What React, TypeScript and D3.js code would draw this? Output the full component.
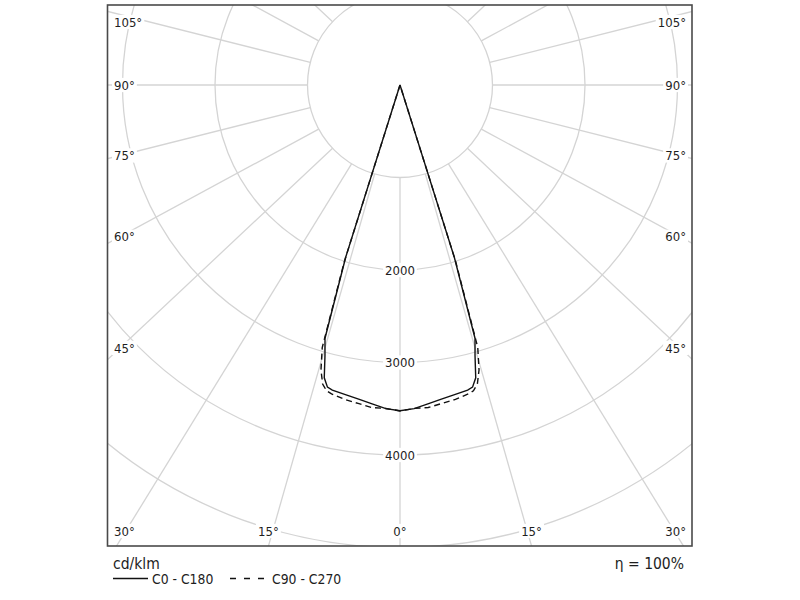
import React from "react";
import * as d3 from "d3";

// ---- data ----
const gammaDeg = [0, 2.5, 5, 7.5, 10, 12.5, 13.5, 14.5, 15.5, 16.5, 17.5, 18.5, 30, 45, 60, 75, 90];
const intensityC0C180 = [3521, 3502, 3460, 3426, 3399, 3379, 3359, 3270, 3035, 2855, 1950, 0, 0, 0, 0, 0, 0];
const intensityC90C270 = [3524, 3500, 3500, 3472, 3451, 3420, 3400, 3340, 3197, 2960, 2000, 0, 0, 0, 0, 0, 0];
const ringValues = [1000, 2000, 3000, 4000, 5000, 6000];
const ringLabelValues = [2000, 3000, 4000];
const spokeAngles = [0, 15, 30, 45, 60, 75, 90, 105, 120, 135, 150, 165, 180, 195, 210, 225, 240, 255, 270, 285, 300, 315, 330, 345];
const angleLabelValues = [0, 15, 30, 45, 60, 75, 90, 105];
const unitLabel = "cd/klm";
const efficiencyLabel = "η = 100%";
const seriesNames = ["C0 - C180", "C90 - C270"];

// ---- layout ----
const W = 800;
const H = 600;
const cx = 400;
const cy = 85;
const frame = { x0: 107.5, y0: 5, x1: 692, y1: 546 };
const SPOKE_ASPECT = 1.065;
const gridColor = "#d4d4d4";
const textColor = "#1e1e1e";
const font = "'DejaVu Sans Condensed', 'DejaVu Sans', sans-serif";

function textWidth(s: string, size: number) {
  let w = 0;
  for (const ch of s) {
    if (/[0-9]/.test(ch)) w += 0.572;
    else if (ch === "°") w += 0.46;
    else w += 0.55;
  }
  return w * size;
}

export default function App() {
  const r = d3.scaleLinear().domain([0, 1000]).range([0, 92.5]);
  const toRad = (d: number) => (d * Math.PI) / 180;

  const fullCurve = (vals: number[]) => {
    const pts: [number, number][] = [];
    for (let i = gammaDeg.length - 1; i >= 0; i--) pts.push([-gammaDeg[i], vals[i]]);
    for (let i = 1; i < gammaDeg.length; i++) pts.push([gammaDeg[i], vals[i]]);
    return pts;
  };
  const radial = d3
    .lineRadial<[number, number]>()
    .angle((d) => Math.PI - toRad(d[0]))
    .radius((d) => r(d[1]));

  const dir = (deg: number) => {
    const ux = Math.sin(toRad(deg)) * SPOKE_ASPECT;
    const uy = Math.cos(toRad(deg));
    const n = Math.hypot(ux, uy);
    return [ux / n, uy / n];
  };

  const r0 = r(ringValues[0]);
  const spokes = spokeAngles.map((a) => {
    const [ux, uy] = dir(a);
    return { a, x1: cx + ux * r0, y1: cy + uy * r0, x2: cx + ux * 1200, y2: cy + uy * 1200 };
  });

  // angle labels
  const box = { xl: 120, xr: 680, yb: frame.y1, yt: frame.y0 };
  const angleLabels: { key: string; text: string; x: number; y: number; anchor: string }[] = [];
  angleLabelValues.forEach((a) => {
    const sides = a === 0 ? [1] : [-1, 1];
    sides.forEach((s) => {
      const [ux, uy] = dir(a * s);
      const ts: { t: number; kind: string }[] = [];
      if (ux < 0) ts.push({ t: (box.xl - cx) / ux, kind: "left" });
      if (ux > 0) ts.push({ t: (box.xr - cx) / ux, kind: "right" });
      if (uy > 0) ts.push({ t: (box.yb - cy) / uy, kind: "bottom" });
      if (uy < 0) ts.push({ t: (box.yt - cy) / uy, kind: "top" });
      ts.sort((p, q) => p.t - q.t);
      const hit = ts[0];
      const px = cx + ux * hit.t;
      const py = cy + uy * hit.t;
      const text = `${a}°`;
      if (hit.kind === "bottom") {
        angleLabels.push({ key: `${a}_${s}`, text, x: Math.max(128, Math.min(672, px)), y: 531, anchor: "middle" });
      } else if (hit.kind === "left") {
        angleLabels.push({ key: `${a}_${s}`, text, x: 114, y: Math.max(22, Math.min(531, py)), anchor: "start" });
      } else {
        angleLabels.push({ key: `${a}_${s}`, text, x: 686, y: Math.max(22, Math.min(531, py)), anchor: "end" });
      }
    });
  });

  const labelSize = 13;
  const bgRect = (x: number, y: number, anchor: string, text: string, size: number) => {
    const w = textWidth(text, size);
    const left = anchor === "start" ? x : anchor === "end" ? x - w : x - w / 2;
    return { x: left - 2, y: y - size * 0.55, width: w + 4, height: size * 1.1 };
  };

  return (
    <svg
      width={W}
      height={H}
      viewBox={`0 0 ${W} ${H}`}
      style={{ position: "absolute", left: 0, top: 0, display: "block", background: "#fff" }}
      fontFamily={font}
    >
      <defs>
        <clipPath id="plotClip">
          <rect x={frame.x0} y={frame.y0} width={frame.x1 - frame.x0} height={frame.y1 - frame.y0} />
        </clipPath>
      </defs>
      <rect x={0} y={0} width={W} height={H} fill="#fff" />
      <g clipPath="url(#plotClip)">
        {ringValues.map((v) => (
          <circle key={v} cx={cx} cy={cy} r={r(v)} fill="none" stroke={gridColor} strokeWidth={1.3} />
        ))}
        {spokes.map((s) => (
          <line key={s.a} x1={s.x1} y1={s.y1} x2={s.x2} y2={s.y2} stroke={gridColor} strokeWidth={1.3} />
        ))}
        {ringLabelValues.map((v) => {
          const y = cy + r(v);
          const b = bgRect(cx, y, "middle", String(v), labelSize);
          return (
            <g key={v}>
              <rect {...b} fill="#fff" />
              <text x={cx} y={y} dy="0.36em" textAnchor="middle" fontSize={labelSize} fill={textColor}>
                {v}
              </text>
            </g>
          );
        })}
        {angleLabels.map((l) => {
          const b = bgRect(l.x, l.y, l.anchor, l.text, labelSize);
          return (
            <g key={l.key}>
              <rect {...b} fill="#fff" />
              <text x={l.x} y={l.y} dy="0.36em" textAnchor={l.anchor as any} fontSize={labelSize} fill={textColor}>
                {l.text}
              </text>
            </g>
          );
        })}
        <g transform={`translate(${cx},${cy})`}>
          <path d={radial(fullCurve(intensityC90C270)) || ""} fill="none" stroke="#111" strokeWidth={1.4} strokeDasharray="6,4" />
          <path d={radial(fullCurve(intensityC0C180)) || ""} fill="none" stroke="#111" strokeWidth={1.4} />
        </g>
      </g>
      <rect
        x={frame.x0}
        y={frame.y0}
        width={frame.x1 - frame.x0}
        height={frame.y1 - frame.y0}
        fill="none"
        stroke="#4a4a4a"
        strokeWidth={1.6}
      />
      <text x={113} y={569} fontSize={15.5} fill={textColor}>
        {unitLabel}
      </text>
      <text x={684} y={569} fontSize={15.5} fill={textColor} textAnchor="end">
        {efficiencyLabel}
      </text>
      <line x1={113} y1={578.5} x2={148} y2={578.5} stroke="#111" strokeWidth={1.4} />
      <text x={152} y={584} fontSize={13.8} fill={textColor}>
        {seriesNames[0]}
      </text>
      <line x1={230} y1={578.5} x2={265} y2={578.5} stroke="#111" strokeWidth={1.4} strokeDasharray="6,8" />
      <text x={272} y={584} fontSize={13.8} fill={textColor}>
        {seriesNames[1]}
      </text>
    </svg>
  );
}
